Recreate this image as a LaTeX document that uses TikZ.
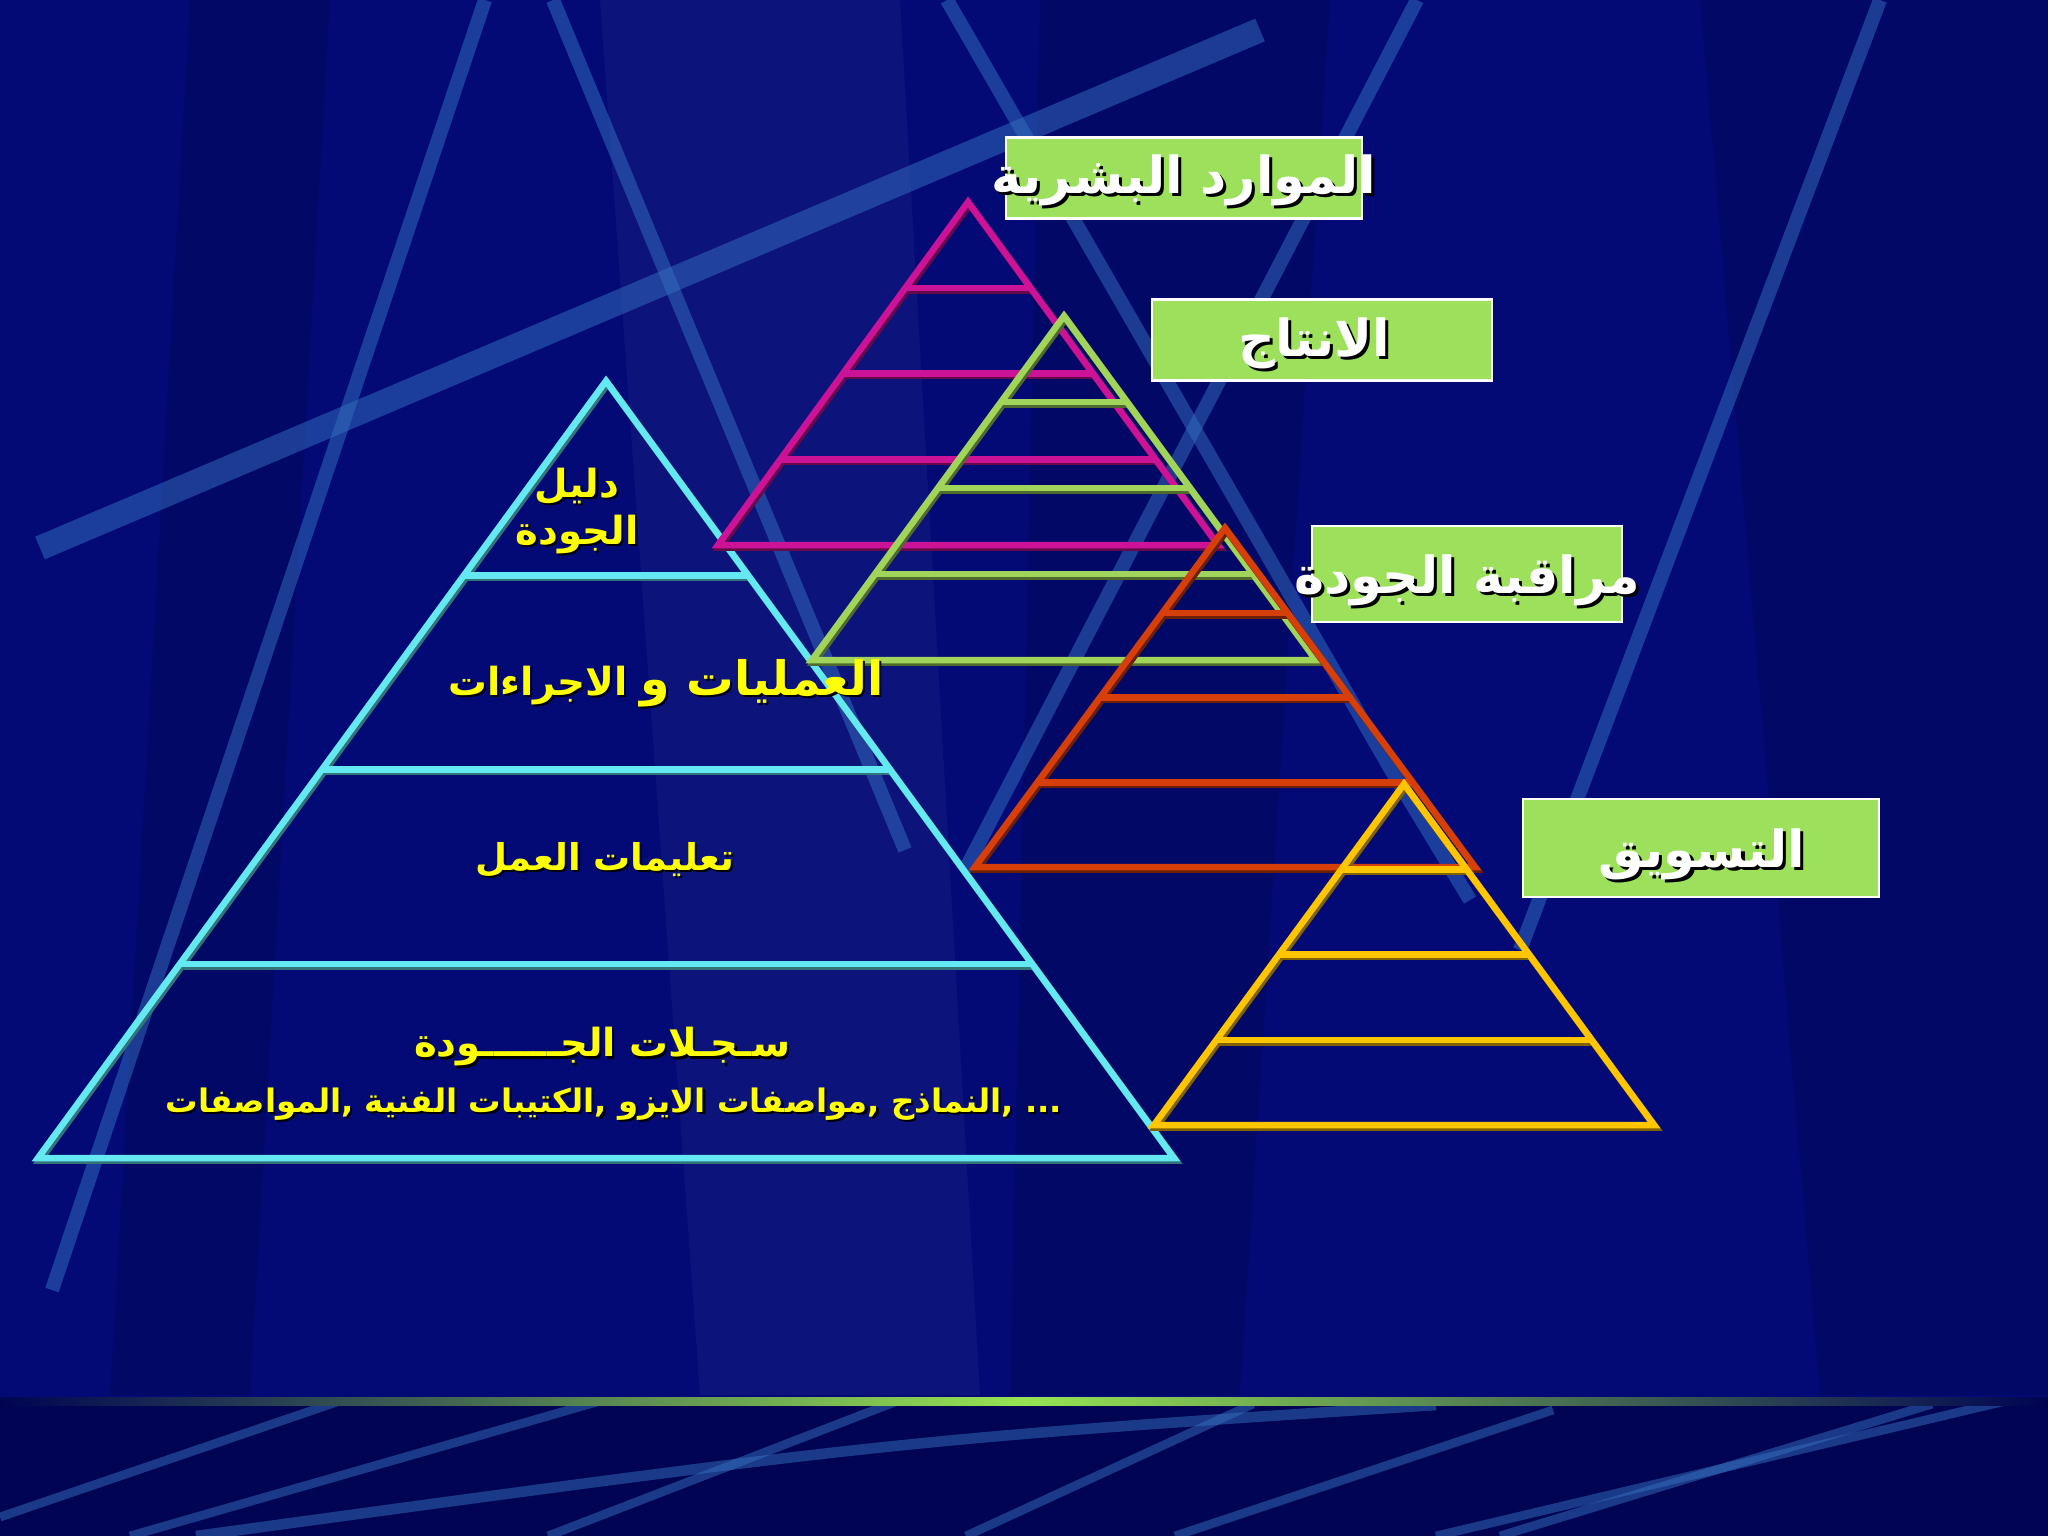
\documentclass[tikz,border=0pt]{standalone}
\usepackage{fontspec}
\setmainfont{DejaVu Sans}
\newfontfamily\arabicfont[Script=Arabic]{DejaVu Sans}
\TeXXeTstate=1
\usetikzlibrary{calc,positioning}

\definecolor{slidebg}{RGB}{3,10,118}
\definecolor{floorbg}{RGB}{0,4,82}
\definecolor{streakblue}{RGB}{52,112,192}
\definecolor{glowgreen}{RGB}{150,228,82}
\definecolor{boxgreen}{RGB}{156,224,92}
\definecolor{pycyan}{RGB}{100,232,242}
\definecolor{pymagenta}{RGB}{204,18,150}
\definecolor{pygreen}{RGB}{160,212,90}
\definecolor{pyred}{RGB}{214,62,10}
\definecolor{pyyellow}{RGB}{255,198,0}
\definecolor{tieryellow}{RGB}{255,255,0}

% name, colour, apex x, apex y, half base, height
\newcommand\pyramid[6]{%
  \coordinate (#1-apex) at (#3,#4);
  \coordinate (#1-left) at ({#3-#5},{#4+#6});
  \coordinate (#1-right) at ({#3+#5},{#4+#6});
  \foreach \lvl in {0.25,0.5,0.75}
    \draw[tier shade=#2] ($(#1-apex)!\lvl!(#1-left)$) -- ($(#1-apex)!\lvl!(#1-right)$);
  \draw[tier shade=#2] (#1-apex) -- (#1-left) -- (#1-right) -- cycle;
  \foreach \lvl in {0.25,0.5,0.75}
    \draw[tier=#2] ($(#1-apex)!\lvl!(#1-left)$) -- ($(#1-apex)!\lvl!(#1-right)$);
  \draw[tier=#2] (#1-apex) -- (#1-left) -- (#1-right) -- cycle;
}

% name, style, shadow offset, position, text
\newcommand\castnode[5]{%
  \node[#2, text=black, xshift=#3, yshift=-#3] (#1-shadow) at (#4) {#5};
  \node[#2] (#1) at (#4) {#5};
}

\begin{document}
\begin{tikzpicture}[x=0.01cm, y=-0.01cm,
    streak/.style={draw=streakblue, line width=4pt, opacity=.5},
    band/.style={fill=black, opacity=.14},
    tier/.style={draw=#1, line width=1.85pt},
    tier shade/.style={draw=#1!50!black, line width=2pt,
      transform canvas={shift={(0.5pt,-0.7pt)}}},
    labelbox/.style={draw=white, line width=0.6pt, fill=boxgreen, inner sep=0pt},
    labeltext/.style={text=white, inner sep=0pt,
      font=\arabicfont\bfseries\fontsize{14.5}{17}\selectfont},
    tiertext/.style={text=tieryellow, inner sep=0pt, align=center,
      font=\arabicfont\bfseries\fontsize{11}{13.4}\selectfont}
  ]
  \fill[slidebg] (0,0) rectangle (2048,1536);
  \useasboundingbox (0,0) rectangle (2048,1536);

  \fill[band] (190,0) -- (330,0) -- (250,1395) -- (110,1395) -- cycle;
  \fill[band] (1040,0) -- (1330,0) -- (1240,1395) -- (1010,1395) -- cycle;
  \fill[band] (1700,0) -- (2048,0) -- (2048,1395) -- (1820,1395) -- cycle;
  \fill[white, opacity=.04] (600,0) -- (900,0) -- (980,1395) -- (700,1395) -- cycle;

  \draw[streak] (485,0) -- (52,1290);
  \draw[streak] (553,0) -- (905,850);
  \draw[streak, line width=7pt] (40,548) -- (1260,30);
  \draw[streak] (947,0) -- (1390,768) -- (1470,900);
  \draw[streak] (1417,0) -- (965,870);
  \draw[streak] (1880,0) -- (1520,950);

  \fill[floorbg] (0,1398) rectangle (2048,1536);
  \begin{scope}
    \clip (0,1404) rectangle (2048,1536);
    \draw[streak, line width=2.5pt] (366,1392) -- (0,1517);
    \draw[streak, line width=2.5pt] (614,1397) -- (130,1536);
    \draw[streak, line width=2.5pt] (900,1400) -- (548,1536);
    \draw[streak, line width=3pt] (1436,1405) .. controls (900,1440) .. (196,1536);
    \draw[streak, line width=2.5pt] (1253,1404) -- (966,1536);
    \draw[streak, line width=2.5pt] (1553,1410) -- (1175,1536);
    \draw[streak, line width=2.5pt] (2010,1400) -- (1436,1536);
    \draw[streak, line width=2.5pt] (1932,1404) -- (1500,1536);
  \end{scope}
  \shade[left color=floorbg, right color=floorbg, middle color=glowgreen]
    (0,1397) rectangle (2048,1405);

  \pyramid{docs}{pycyan}{606}{381}{568}{777}
  \pyramid{hr}{pymagenta}{968}{202}{250}{343}
  \pyramid{prod}{pygreen}{1064}{316}{252}{344}
  \pyramid{qc}{pyred}{1225}{528}{250}{339}
  \pyramid{mkt}{pyyellow}{1404}{784}{250}{341}

  \node[labelbox, minimum width=3.55cm, minimum height=0.81cm] (hr-box) at (1184,178) {};
  \node[labelbox, minimum width=3.39cm, minimum height=0.81cm] (prod-box) at (1322,340) {};
  \node[labelbox, minimum width=3.09cm, minimum height=0.96cm] (qc-box) at (1467,574) {};
  \node[labelbox, minimum width=3.56cm, minimum height=0.98cm] (mkt-box) at (1701,848) {};

  \castnode{hr-label}{labeltext}{0.9pt}{1184,180}{\beginR الموارد البشرية\endR}
  \castnode{prod-label}{labeltext}{0.9pt}{1314,343}{\beginR الانتاج\endR}
  \castnode{qc-label}{labeltext}{0.9pt}{1467,580}{\beginR مراقبة الجودة\endR}
  \castnode{mkt-label}{labeltext}{0.9pt}{1702,854}{\beginR التسويق\endR}

  \castnode{manual}{tiertext}{0.6pt}{577,511}{\beginR دليل\endR\\\beginR الجودة\endR}
  \castnode{procs}{tiertext}{0.6pt}{666,683}{\beginR{\fontsize{13.5}{16}\selectfont العمليات و} الاجراءات\endR}
  \castnode{instr}{tiertext}{0.6pt}{605,860}{\beginR{\fontsize{10.5}{13}\selectfont تعليمات العمل}\endR}
  \castnode{records}{tiertext}{0.6pt}{602,1047}{\beginR سـجـلات الجــــــودة\endR}
  \castnode{records-list}{tiertext}{0.6pt}{614,1104}{\fontsize{9.2}{11}\selectfont\beginR المواصفات\endR, \beginR الكتيبات الفنية\endR, \beginR مواصفات الايزو\endR, \beginR النماذج\endR, ...}
\end{tikzpicture}
\end{document}
